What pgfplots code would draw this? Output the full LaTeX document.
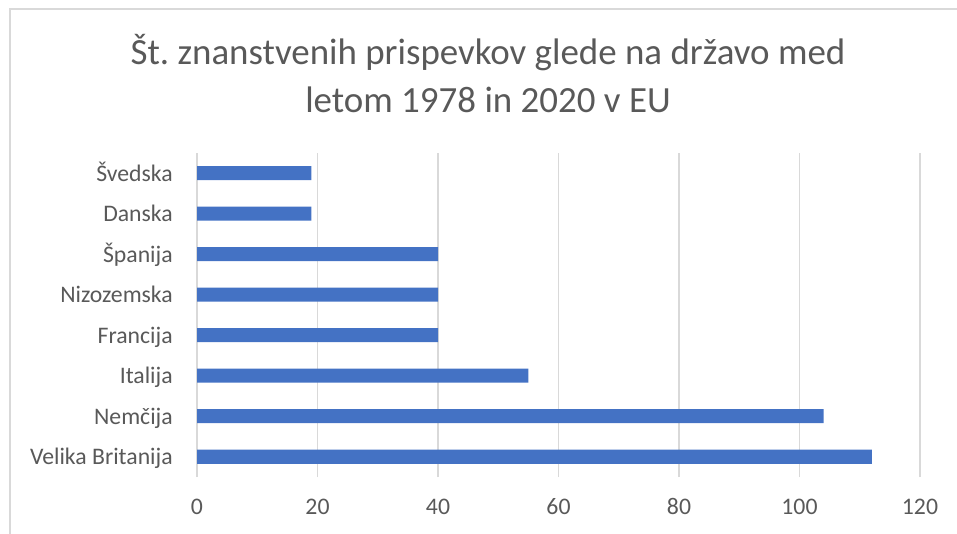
\documentclass[border=0pt]{standalone}
\usepackage{pgfplots}
\pgfplotsset{compat=1.18}
\usepackage{fontspec}
\setmainfont{Carlito}
\definecolor{barblue}{HTML}{4472C4}
\definecolor{txtgray}{HTML}{595959}
\definecolor{gridgray}{HTML}{D9D9D9}
\frenchspacing
\begin{document}
\begin{tikzpicture}[x=0.75bp,y=0.75bp]
\useasboundingbox (0,0) rectangle (957,534);
\draw[gridgray,line width=1.5bp] (10,-5) -- (10,525) -- (970,525);
\node[text=txtgray,font=\fontsize{27.7bp}{36bp}\selectfont,align=center] at (488,460) {Št. znanstvenih prispevkov glede na državo med\\letom 1978 in 2020 v EU};
\begin{axis}[
  at={(147.75bp,42.75bp)}, anchor=south west,
  scale only axis, width=542.25bp, height=243bp,
  xbar, bar width=10.5bp,
  xmin=0, xmax=120, ymin=-0.5, ymax=7.5,
  xtick={0,20,...,120},
  ytick={0,...,7},
  yticklabels={Velika Britanija,Nemčija,Italija,Francija,Nizozemska,Španija,Danska,Švedska},
  axis line style={draw=none},
  major tick length=0pt,
  xmajorgrids, grid style={gridgray,line width=1bp},
  tick label style={text=txtgray,font=\fontsize{17.8bp}{22bp}\selectfont},
  /pgf/number format/assume math mode=true,
  xticklabel style={anchor=base,inner sep=0pt,yshift=-28bp},
  yticklabel style={anchor=base east,inner sep=0pt,xshift=-18bp,yshift=-6bp},
]
\addplot[fill=barblue,draw=none] coordinates {
(112,0) (104,1) (55,2) (40,3) (40,4) (40,5) (19,6) (19,7)};
\end{axis}
\end{tikzpicture}
\end{document}
